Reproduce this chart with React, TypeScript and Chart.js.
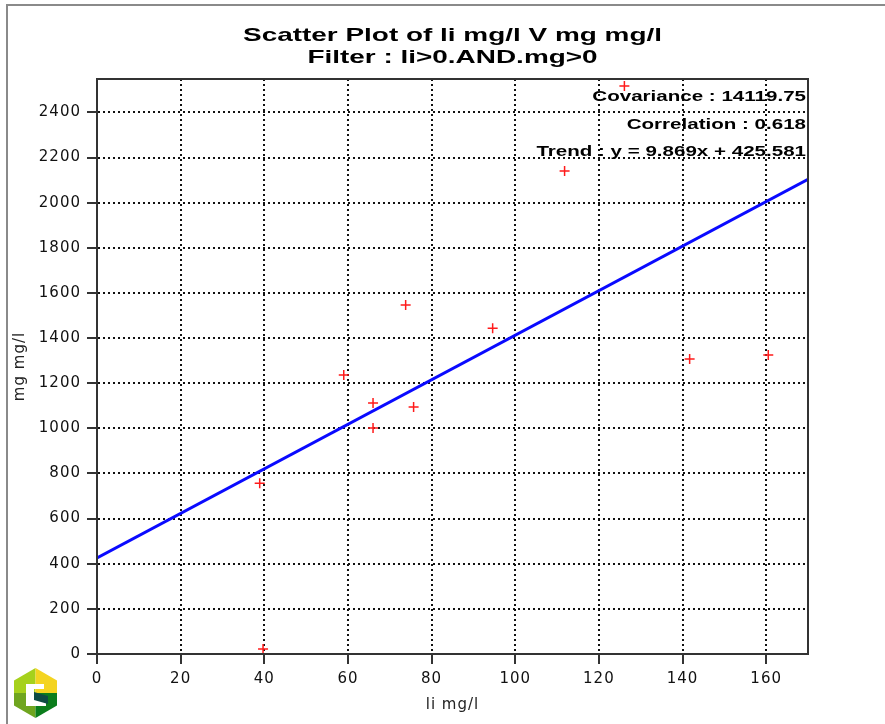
import React, { useEffect, useRef } from "react";
import { Chart, registerables } from "chart.js";

Chart.register(...registerables);

// ---- data ----
const liValues = [126.1, 111.8, 73.8, 94.6, 59.0, 66.0, 75.7, 66.0, 38.9, 39.7, 141.7, 160.5];
const mgValues = [2517, 2140, 1546, 1444, 1236, 1112, 1094, 1001, 757, 22, 1307, 1325];
const xTicks = [0, 20, 40, 60, 80, 100, 120, 140, 160];
const yTicks = [0, 200, 400, 600, 800, 1000, 1200, 1400, 1600, 1800, 2000, 2200, 2400];
const xRange = [0, 170];
const yRange = [0, 2548];
const titleLines = ["Scatter Plot of li mg/l V mg mg/l", "Filter : li>0.AND.mg>0"];
const xTitle = "li mg/l";
const yTitle = "mg mg/l";
const covariance = "14119.75";
const correlation = "0.618";
const slope = 9.869;
const intercept = 425.581;
const statLines = [
  `Covariance : ${covariance}`,
  `Correlation : ${correlation}`,
  `Trend : y = ${slope}x + ${intercept}`,
];

const trendPoints = xRange.map((x) => ({ x, y: slope * x + intercept }));

function stretchedText(ctx: CanvasRenderingContext2D, text: string, x: number, y: number, font: string, sx: number, align: CanvasTextAlign) {
  ctx.save();
  ctx.font = font;
  ctx.fillStyle = "#000";
  ctx.textAlign = align;
  ctx.textBaseline = "alphabetic";
  ctx.translate(x, y);
  ctx.scale(sx, 1);
  ctx.fillText(text, 0, 0);
  ctx.restore();
}

const decorPlugin = {
  id: "decor",
  beforeDraw(chart: any) {
    (chart.ctx as any).letterSpacing = "1px";
  },
  afterDraw(chart: any) {
    const ctx = chart.ctx as CanvasRenderingContext2D;
    (ctx as any).letterSpacing = "0px";
    const a = chart.chartArea;
    // plot frame
    ctx.save();
    ctx.strokeStyle = "#333";
    ctx.lineWidth = 2;
    ctx.strokeRect(a.left, a.top, a.right - a.left, a.bottom - a.top);
    ctx.restore();
    // title
    const cx = (a.left + a.right) / 2;
    stretchedText(ctx, titleLines[0], cx, a.top - 38, "bold 19px 'Liberation Sans', Arial, sans-serif", 1.47, "center");
    stretchedText(ctx, titleLines[1], cx, a.top - 16, "bold 19px 'Liberation Sans', Arial, sans-serif", 1.47, "center");
    // stats
    const rx = a.right - 2;
    stretchedText(ctx, statLines[0], rx, a.top + 22, "bold 15px 'Liberation Sans', Arial, sans-serif", 1.37, "right");
    stretchedText(ctx, statLines[1], rx, a.top + 50, "bold 15px 'Liberation Sans', Arial, sans-serif", 1.37, "right");
    stretchedText(ctx, statLines[2], rx, a.top + 77, "bold 15px 'Liberation Sans', Arial, sans-serif", 1.37, "right");
  },
};

function Logo() {
  return (
    <svg width={43} height={50} viewBox="0 0 43 50" style={{ position: "absolute", left: 14, top: 668 }}>
      <defs>
        <clipPath id="hex">
          <polygon points="21.5,0 43,12.5 43,37.5 21.5,50 0,37.5 0,12.5" />
        </clipPath>
      </defs>
      <g clipPath="url(#hex)">
        <rect x={0} y={0} width={21.5} height={25} fill="#a6d11c" />
        <rect x={21.5} y={0} width={21.5} height={25} fill="#f4d421" />
        <rect x={0} y={25} width={21.5} height={25} fill="#6fa51f" />
        <rect x={21.5} y={25} width={21.5} height={25} fill="#0b7d1c" />
        <polygon points="12,16 30,16 30,21 20,21 20,26 32,30 32,38 12,38" fill="#ffffff" />
        <polygon points="20,24 34,28 34,36 20,32" fill="#0e4b44" />
      </g>
    </svg>
  );
}

const tickFont = { family: "'DejaVu Sans'", size: 15 };

export default function App() {
  const ref = useRef<HTMLCanvasElement | null>(null);
  useEffect(() => {
    if (!ref.current) return;
    const chart = new Chart(ref.current, {
      type: "scatter",
      data: {
        datasets: [
          {
            type: "scatter",
            label: "points",
            data: liValues.map((x, i) => ({ x, y: mgValues[i] })),
            pointStyle: "cross",
            radius: 5,
            borderColor: "#ff1a1a",
            backgroundColor: "#ff1a1a",
            borderWidth: 1.5,
          },
          {
            type: "line",
            label: "trend",
            data: trendPoints,
            borderColor: "#0a0aff",
            borderWidth: 3,
            pointRadius: 0,
            fill: false,
          } as any,
        ],
      },
      options: {
        responsive: false,
        animation: false,
        layout: { padding: { left: 0, top: 79, right: 77, bottom: 0 } },
        plugins: { legend: { display: false }, tooltip: { enabled: false }, title: { display: false } },
        scales: {
          x: {
            type: "linear",
            min: xRange[0],
            max: xRange[1],
            afterBuildTicks: (s: any) => {
              s.ticks = xTicks.map((v) => ({ value: v }));
            },
            afterFit: (s: any) => {
              s.height = 70;
            },
            ticks: { color: "#111", font: tickFont, padding: 6, maxRotation: 0, callback: (v: any) => String(v) },
            grid: { color: "#111", lineWidth: 2, tickLength: 10, tickColor: "#333", tickWidth: 2, tickBorderDash: [] },
            border: { display: true, color: "#333", width: 2, dash: [2, 3] },
            title: { display: true, text: xTitle, color: "#222", font: tickFont, padding: { top: 0, bottom: 10 } },
          },
          y: {
            type: "linear",
            min: yRange[0],
            max: yRange[1],
            afterBuildTicks: (s: any) => {
              s.ticks = yTicks.map((v) => ({ value: v }));
            },
            afterFit: (s: any) => {
              s.width = 97;
            },
            ticks: { color: "#111", font: tickFont, padding: 6, callback: (v: any) => String(v) },
            grid: { color: "#111", lineWidth: 2, tickLength: 10, tickColor: "#333", tickWidth: 2, tickBorderDash: [] },
            border: { display: true, color: "#333", width: 2, dash: [2, 3] },
            title: { display: true, text: yTitle, color: "#222", font: tickFont, padding: { top: 11, bottom: 0 } },
          },
        },
      } as any,
      plugins: [decorPlugin],
    });
    return () => chart.destroy();
  }, []);

  return (
    <div style={{ position: "fixed", left: 0, top: 0, width: 885, height: 724, background: "#fff", overflow: "hidden" }}>
      <div style={{ position: "absolute", left: 6, top: 4, right: 0, height: 2, background: "#8a8a8a" }} />
      <div style={{ position: "absolute", left: 6, top: 4, bottom: 0, width: 2, background: "#8a8a8a" }} />
      <canvas ref={ref} width={885} height={724} style={{ position: "absolute", left: 0, top: 0, display: "block" }} />
      <Logo />
    </div>
  );
}
